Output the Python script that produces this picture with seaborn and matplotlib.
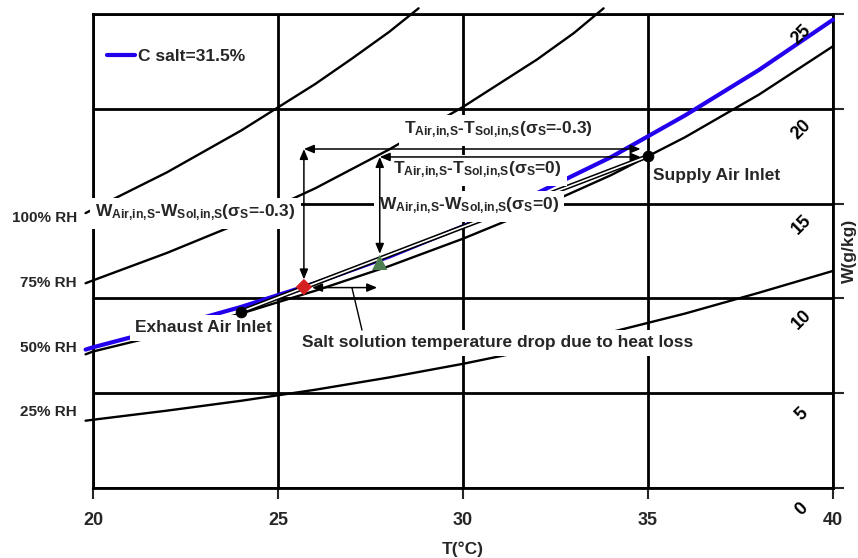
import numpy as np
import pandas as pd
import matplotlib.pyplot as plt
import seaborn as sns

sns.set_style('white')
plt.rcParams['font.family'] = ['Liberation Sans', 'DejaVu Sans']
plt.rcParams['font.weight'] = 'bold'
plt.rcParams['mathtext.fontset'] = 'custom'
plt.rcParams['mathtext.rm'] = 'Liberation Sans:bold'
plt.rcParams['mathtext.it'] = 'Liberation Sans:bold'
plt.rcParams['mathtext.bf'] = 'Liberation Sans:bold'

# axis ticks
t_ticks = [20, 25, 30, 35, 40]
w_ticks = [0, 5, 10, 15, 20, 25]

# relative humidity curves (T in C, W in g/kg)
rh100_T = [19.8, 20, 22, 24, 26, 27, 28, 28.8]
rh100_W = [14.5, 14.7, 16.65, 18.85, 21.3, 22.65, 24.05, 25.3]
rh75_T = [19.8, 20, 22, 24, 26, 28, 30, 32, 33, 33.8]
rh75_W = [10.8, 10.95, 12.4, 14.0, 15.8, 17.85, 20.1, 22.6, 24.0, 25.3]
rh50_T = [19.8, 20, 22, 24, 26, 28, 30, 32, 34, 36, 38, 40]
rh50_W = [7.05, 7.2, 8.15, 9.2, 10.4, 11.7, 13.15, 14.75, 16.5, 18.5, 20.75, 23.3]
rh25_T = [19.8, 20, 22, 24, 26, 28, 30, 32, 34, 36, 38, 40]
rh25_W = [3.55, 3.6, 4.08, 4.6, 5.18, 5.83, 6.55, 7.35, 8.22, 9.2, 10.3, 11.45]

# salt solution equilibrium curve
salt_T = [19.8, 20, 22, 24, 26, 28, 30, 32, 34, 36, 38, 40]
salt_W = [7.3, 7.42, 8.45, 9.55, 10.8, 12.2, 13.8, 15.55, 17.45, 19.65, 22.05, 24.7]

rh_labels = ['100% RH', '75% RH', '50% RH', '25% RH']
rh_label_W = [14.24, 10.81, 7.38, 4.01]

# inlet states
exhaust = (24.0, 9.3)
supply = (35.0, 17.5)
sol_m03 = (25.7, 10.6)   # red diamond, sigma=-0.3
sol_0 = (27.75, 11.9)    # green triangle, sigma=0

fig = plt.figure(figsize=(8.58, 5.58), dpi=100)
ax = fig.add_axes([93 / 858, 70 / 558, 740 / 858, 474 / 558])
ax.set_xlim(20, 40)
ax.set_ylim(0, 25)
ax.set_xticks(t_ticks)
ax.set_yticks(w_ticks)
ax.grid(True, color='black', linewidth=2)
ax.set_axisbelow(True)
for s in ax.spines.values():
    s.set_color('black')
    s.set_linewidth(2)

for T, W in [(rh100_T, rh100_W), (rh75_T, rh75_W), (rh50_T, rh50_W), (rh25_T, rh25_W)]:
    sns.lineplot(x=T, y=W, color='black', linewidth=1.7, ax=ax, clip_on=False, zorder=2)

sns.lineplot(x=salt_T, y=salt_W, color='#2200ee', linewidth=3, ax=ax, clip_on=False, zorder=3)
salt_line = ax.lines[-1]

# process line exhaust -> supply (double line)
sns.lineplot(x=[exhaust[0], supply[0]], y=[exhaust[1], supply[1]], color='black', linewidth=3.4, ax=ax, zorder=4)
sns.lineplot(x=[exhaust[0], supply[0]], y=[exhaust[1], supply[1]], color='white', linewidth=1.2, ax=ax, zorder=4.1)

box = dict(boxstyle='square,pad=0.3', fc='white', ec='none')
fs = 12.5

ax.text(30.97, 18.88, r'T$_{\mathrm{Air{,}in{,}S}}$-T$_{\mathrm{Sol{,}in{,}S}}$(σ$_{\mathrm{S}}$=-0.3)',
        fontsize=fs, ha='center', va='center', bbox=box, zorder=5)
ax.text(30.4, 16.77, r'T$_{\mathrm{Air{,}in{,}S}}$-T$_{\mathrm{Sol{,}in{,}S}}$(σ$_{\mathrm{S}}$=0)',
        fontsize=fs, ha='center', va='center', bbox=box, zorder=5)
ax.text(30.16, 14.87, r'W$_{\mathrm{Air{,}in{,}S}}$-W$_{\mathrm{Sol{,}in{,}S}}$(σ$_{\mathrm{S}}$=0)',
        fontsize=fs, ha='center', va='center', bbox=box, zorder=5)
ax.text(22.76, 14.5, r'W$_{\mathrm{Air{,}in{,}S}}$-W$_{\mathrm{Sol{,}in{,}S}}$(σ$_{\mathrm{S}}$=-0.3)',
        fontsize=fs, ha='center', va='center', bbox=box, zorder=5, clip_on=False)
ax.text(22.99, 8.44, 'Exhaust Air Inlet', fontsize=fs, ha='center', va='center', bbox=box, zorder=5)
ax.text(35.14, 16.5, 'Supply Air Inlet', fontsize=fs, ha='left', va='center', zorder=5)
ax.text(30.93, 7.65, 'Salt solution temperature drop due to heat loss', fontsize=fs,
        ha='center', va='center', bbox=box, zorder=5)

# arrows
arrow = dict(arrowstyle='<|-|>,head_length=0.6,head_width=0.25', color='black', lw=1.1,
             mutation_scale=10, shrinkA=0, shrinkB=0)
ax.annotate('', xy=(34.8, 17.88), xytext=(sol_m03[0], 17.88), arrowprops=arrow, zorder=7)
ax.annotate('', xy=(34.8, 17.46), xytext=(sol_0[0], 17.46), arrowprops=arrow, zorder=7)
ax.annotate('', xy=(sol_m03[0], 11.0), xytext=(sol_m03[0], 17.88), arrowprops=arrow, zorder=7)
ax.annotate('', xy=(sol_0[0], 12.35), xytext=(sol_0[0], 17.46), arrowprops=arrow, zorder=7)
ax.annotate('', xy=(27.68, 10.57), xytext=(25.92, 10.57), arrowprops=arrow, zorder=7)
ax.plot([27.0, 27.27], [10.55, 8.33], color='black', linewidth=1, zorder=7)

# markers
sns.scatterplot(x=[exhaust[0], supply[0]], y=[exhaust[1], supply[1]], color='black',
                s=60, edgecolor='black', ax=ax, zorder=8)
sns.scatterplot(x=[sol_m03[0]], y=[sol_m03[1]], color='#d42020', marker='D', s=70,
                edgecolor='none', ax=ax, zorder=8)
sns.scatterplot(x=[sol_0[0]], y=[sol_0[1]], color='#4e7f50', marker='^', s=120,
                edgecolor='none', ax=ax, zorder=8)

# legend
ax.legend(handles=[salt_line], labels=['C salt=31.5%'], loc='center left',
          bbox_to_anchor=(14 / 740, 1 - 42 / 474), frameon=False, fontsize=fs,
          handlelength=1.6, handletextpad=0.2, borderpad=0, borderaxespad=0)

# RH labels on the left
for lab, w in zip(rh_labels, rh_label_W):
    ax.text(19.57, w, lab, fontsize=11, ha='right', va='center')

# W tick labels, rotated, inside the plot
for w in w_ticks:
    ax.text(39.15, w - 1.1, str(w), fontsize=13, rotation=45, ha='center', va='center',
            color='black', clip_on=False, zorder=6)

ax.tick_params(axis='x', direction='out', length=8, width=1.5, pad=9, labelsize=13, bottom=True)
ax.tick_params(axis='y', left=False, right=True, labelleft=False, labelright=False,
               direction='out', length=8, width=1.5)
ax.set_xlabel('T(°C)', fontsize=fs, fontweight='bold', labelpad=9)
ax.set_ylabel('')
fig.text(849 / 858, 1 - 251 / 558, 'W(g/kg)', fontsize=fs, rotation=90, ha='center', va='center')

fig.savefig('out.png', dpi=100)
